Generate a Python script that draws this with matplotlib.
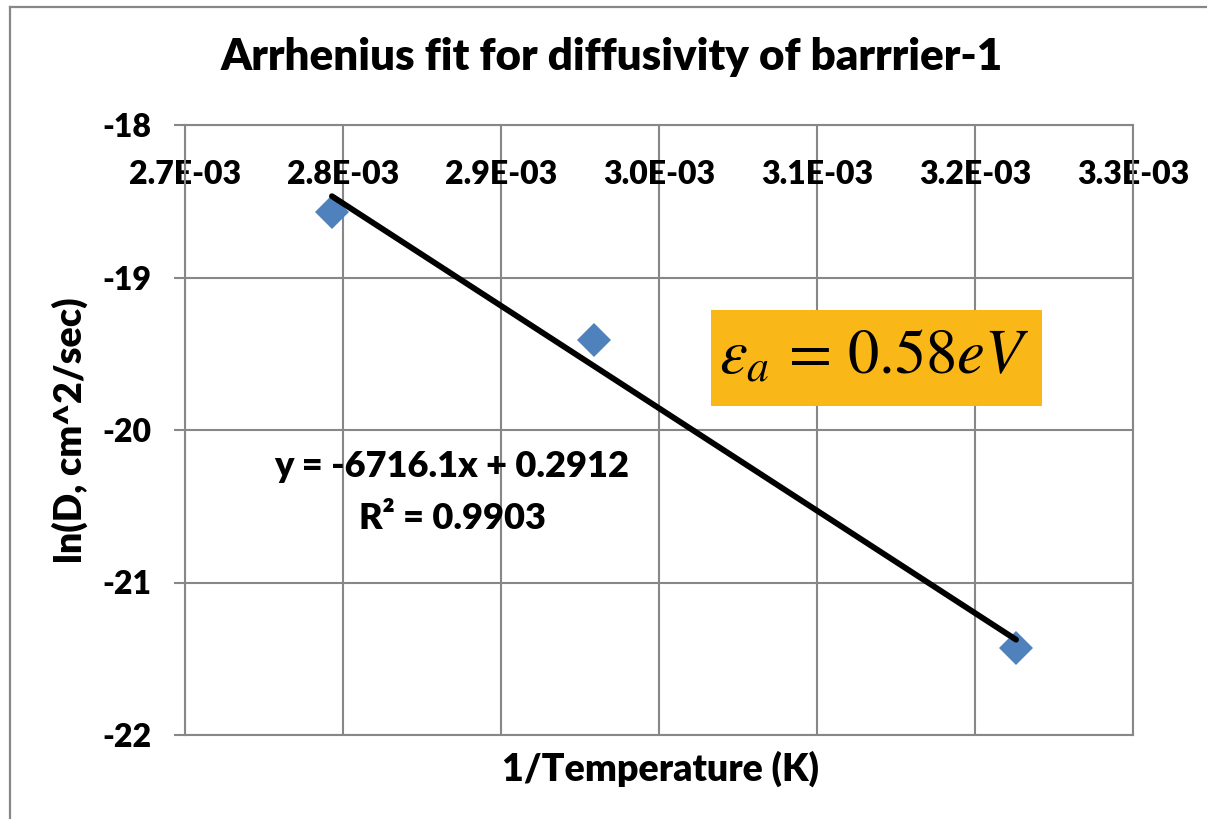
import matplotlib
matplotlib.use("Agg")
import matplotlib.pyplot as plt
from matplotlib.lines import Line2D
from matplotlib.patches import Rectangle
import numpy as np

# Inverse temperature (1/K) and ln of diffusivity (cm^2/sec)
inv_temp = [2.793e-3, 2.959e-3, 3.226e-3]
ln_d = [-18.57, -19.41, -21.43]

# Least-squares trendline as reported on the chart
slope = -6716.1
intercept = 0.2912
r_squared = 0.9903

x_ticks = [2.7e-3, 2.8e-3, 2.9e-3, 3.0e-3, 3.1e-3, 3.2e-3, 3.3e-3]
x_tick_labels = ["2.7E-03", "2.8E-03", "2.9E-03", "3.0E-03", "3.1E-03", "3.2E-03", "3.3E-03"]
y_ticks = [-22, -21, -20, -19, -18]
y_tick_labels = ["-22", "-21", "-20", "-19", "-18"]

activation_energy = 0.58

FONT = "Lato"
WEIGHT = 800
GRID = "#878787"
W, H = 1207, 819

plt.rcParams["font.family"] = FONT
plt.rcParams["mathtext.fontset"] = "stix"

fig = plt.figure(figsize=(W / 100, H / 100), dpi=100)
fig.patch.set_facecolor("white")

# chart frame (left and top edges visible within the canvas)
fig.add_artist(Line2D([10 / W, 10 / W], [0, 1 - 7 / H], color=GRID, lw=1.6))
fig.add_artist(Line2D([10 / W, 1], [1 - 7 / H, 1 - 7 / H], color=GRID, lw=1.6))

ax = fig.add_axes([185 / W, 1 - 735 / H, (1133 - 185) / W, (735 - 125) / H])
ax.set_xlim(2.7e-3, 3.3e-3)
ax.set_ylim(-22, -18)

ax.set_xticks(x_ticks)
ax.set_xticklabels(x_tick_labels)
ax.set_yticks(y_ticks)
ax.set_yticklabels(y_tick_labels)

ax.grid(True, color=GRID, lw=1.5)
ax.set_axisbelow(True)
for sp in ax.spines.values():
    sp.set_color(GRID)
    sp.set_linewidth(1.5)

ax.xaxis.set_ticks_position("top")
ax.tick_params(axis="x", which="both", length=0, top=False, bottom=False,
               labeltop=True, labelbottom=False, pad=-46, labelsize=23)
ax.tick_params(axis="y", direction="out", length=8, width=1.5, color=GRID,
               pad=16, labelsize=23)
for lbl in ax.get_xticklabels() + ax.get_yticklabels():
    lbl.set_fontweight(WEIGHT)

# data points
ax.plot(inv_temp, ln_d, linestyle="none", marker="D", markersize=17,
        color="#4F81BD", markeredgewidth=0, zorder=3)

# linear trendline spanning the data
xs = np.array([min(inv_temp), max(inv_temp)])
ax.plot(xs, slope * xs + intercept, color="black", lw=4.2, zorder=4,
        solid_capstyle="round")

# trendline equation
ax.text(2.869e-3, -20.24, f"y = {slope}x + {intercept}", ha="center", va="center",
        fontsize=26, fontweight=WEIGHT)
ax.text(2.869e-3, -20.58, f"R² = {r_squared}", ha="center", va="center",
        fontsize=26, fontweight=WEIGHT)

# activation energy callout
fig.add_artist(Rectangle((711 / W, 1 - 406 / H), (1042 - 711) / W, (406 - 310) / H,
                         transform=fig.transFigure, facecolor="#FAB718",
                         edgecolor="none", zorder=5))
fig.text(874 / W, 1 - 373 / H, rf"$\varepsilon_{{a}}\,=\,{activation_energy}eV$",
         ha="center", va="baseline", fontsize=45, fontweight="normal", zorder=6)

fig.text(612 / W, 1 - 57 / H, "Arrhenius fit for diffusivity of barrrier-1",
         ha="center", va="center", fontsize=31.6, fontweight=WEIGHT)
fig.text(660 / W, 1 - 769 / H, "1/Temperature (K)", ha="center", va="center",
         fontsize=27, fontweight=WEIGHT)
fig.text(70 / W, 1 - 430 / H, "ln(D, cm^2/sec)", ha="center", va="center",
         rotation=90, fontsize=27, fontweight=WEIGHT)

fig.savefig("out.png", dpi=100)
